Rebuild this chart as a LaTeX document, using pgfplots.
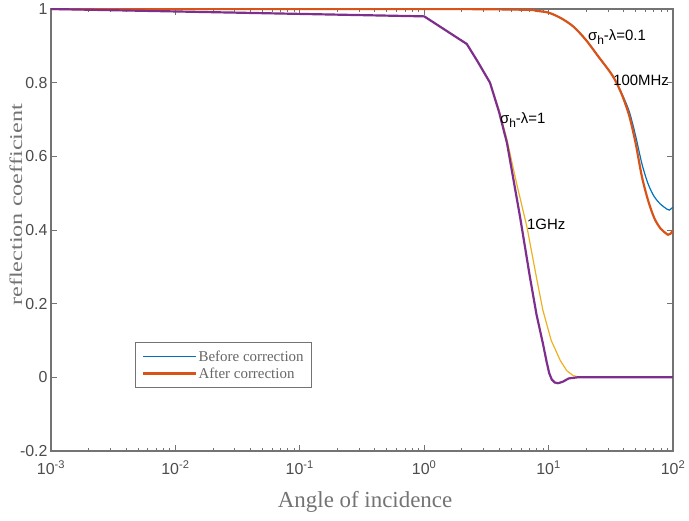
\documentclass[border=0pt]{standalone}
\usepackage{fontspec}
\setmainfont{Liberation Sans}
\newfontfamily\timesfont{Liberation Serif}
\usepackage{pgfplots}
\pgfplotsset{compat=1.18}
\definecolor{mblue}{rgb}{0,0.447,0.741}
\definecolor{morange}{rgb}{0.85,0.325,0.098}
\definecolor{myellow}{rgb}{0.929,0.694,0.125}
\definecolor{mpurple}{rgb}{0.494,0.184,0.556}
\definecolor{axgray}{gray}{0.45}
\newcommand{\sub}[1]{\raisebox{-0.45ex}{\fontsize{12}{12}\selectfont #1}}
\begin{document}
\begin{tikzpicture}
\begin{axis}[name=ax, scale only axis, width=622bp, height=442bp,
  xmode=log, xmin=1e-3, xmax=1e2, ymin=-0.2, ymax=1,
  xtick={1e-3,1e-2,1e-1,1,10,100},
  xticklabels={10\textsuperscript{-3},10\textsuperscript{-2},10\textsuperscript{-1},10\textsuperscript{0},10\textsuperscript{1},10\textsuperscript{2}},
  ytick={-0.2,0,0.2,0.4,0.6,0.8,1},
  /pgf/number format/assume math mode=true,
  tick align=inside, major tick length=6bp, minor tick length=3bp,
  axis line style={axgray, line width=1.1pt},
  every tick/.style={axgray, line width=0.6pt},
  tick label style={font=\fontsize{16}{16}\selectfont, text=black!70},
  xticklabel style={yshift=-6bp},
  xlabel={\timesfont\fontsize{23}{23}\selectfont Angle of incidence},
  every axis x label/.style={at={(axis description cs:0.505,-0.115)}, anchor=center, text=black!55},
  ylabel={\timesfont\fontsize{18}{18}\selectfont\scalebox{1.35}[1]{reflection coefficient}},
  every axis y label/.style={at={(axis description cs:-0.0563,0.557)}, rotate=90, anchor=center, text=black!55},
  legend style={at={(0.135,0.1425)}, anchor=south west, draw=axgray, line width=1pt,
    font=\timesfont\fontsize{15}{16}\selectfont, text=black!60, inner xsep=6bp, inner ysep=6bp, row sep=1bp},
  legend cell align=left,
  legend image code/.code={\draw[#1] (0bp,0bp) -- (53bp,0bp);},
]
\addplot[mblue, line width=1.2pt, smooth, tension=0.5] coordinates {
(0.001,1.0) (1,1.0) (6.31,0.998) (7.94,0.995) (10,0.99) (12.59,0.975) (15.85,0.952) (19.95,0.916) (25.12,0.871) (31.62,0.826) (35.48,0.797) (39.81,0.762) (44.67,0.72) (50.12,0.655) (56.23,0.58) (63.10,0.525) (70.79,0.49) (79.43,0.47) (89.13,0.457) (93.3,0.454) (100,0.462)};
\addlegendentry{Before correction}
\addplot[morange, line width=2.2pt, smooth, tension=0.5] coordinates {
(0.001,1.0) (1,1.0) (6.31,0.998) (7.94,0.995) (10,0.99) (12.59,0.975) (15.85,0.952) (19.95,0.916) (25.12,0.871) (31.62,0.826) (35.48,0.797) (39.81,0.758) (44.67,0.708) (50.12,0.635) (56.23,0.545) (63.10,0.48) (70.79,0.432) (79.43,0.404) (89.13,0.389) (91.2,0.387) (95.5,0.39) (100,0.399)};
\addlegendentry{After correction}
\addplot[myellow, line width=1.2pt, forget plot] coordinates {
(0.001,1.0) (1,0.98) (2.2,0.905) (2.66,0.86) (3.38,0.80) (4.0,0.725) (4.63,0.645) (5.5,0.53) (6.7,0.408) (8,0.27) (9.0,0.182) (10.5,0.10) (12.4,0.046) (14,0.018) (15.7,0.005) (18,0) (100,0)};
\addplot[mpurple, line width=2.2pt, forget plot] coordinates {
(0.001,1.0) (1,0.98) (2.2,0.905) (2.66,0.86) (3.38,0.80) (4.0,0.72) (4.63,0.636) (5.9,0.435) (7.08,0.272) (8,0.17) (9.0,0.092) (9.6,0.045) (10.1,0.012) (10.6,-0.006) (11.2,-0.014) (11.9,-0.016) (13,-0.012) (14.5,-0.003) (17,0) (100,0)};
\node[anchor=west, font=\fontsize{15}{15}\selectfont, inner sep=0pt] at (axis cs:20.7,0.924) {σ\sub{h}-λ=0.1};
\node[anchor=west, font=\fontsize{15}{15}\selectfont, inner sep=0pt] at (axis cs:33,0.807) {100MHz};
\node[anchor=west, font=\fontsize{15}{15}\selectfont, inner sep=0pt] at (axis cs:4.06,0.698) {σ\sub{h}-λ=1};
\node[anchor=west, font=\fontsize{15}{15}\selectfont, inner sep=0pt] at (axis cs:6.7,0.416) {1GHz};
\end{axis}
\pgfresetboundingbox
\path ([shift={(-51bp,-70bp)}]ax.south west) rectangle ([shift={(16bp,9bp)}]ax.north east);
\end{tikzpicture}
\end{document}
